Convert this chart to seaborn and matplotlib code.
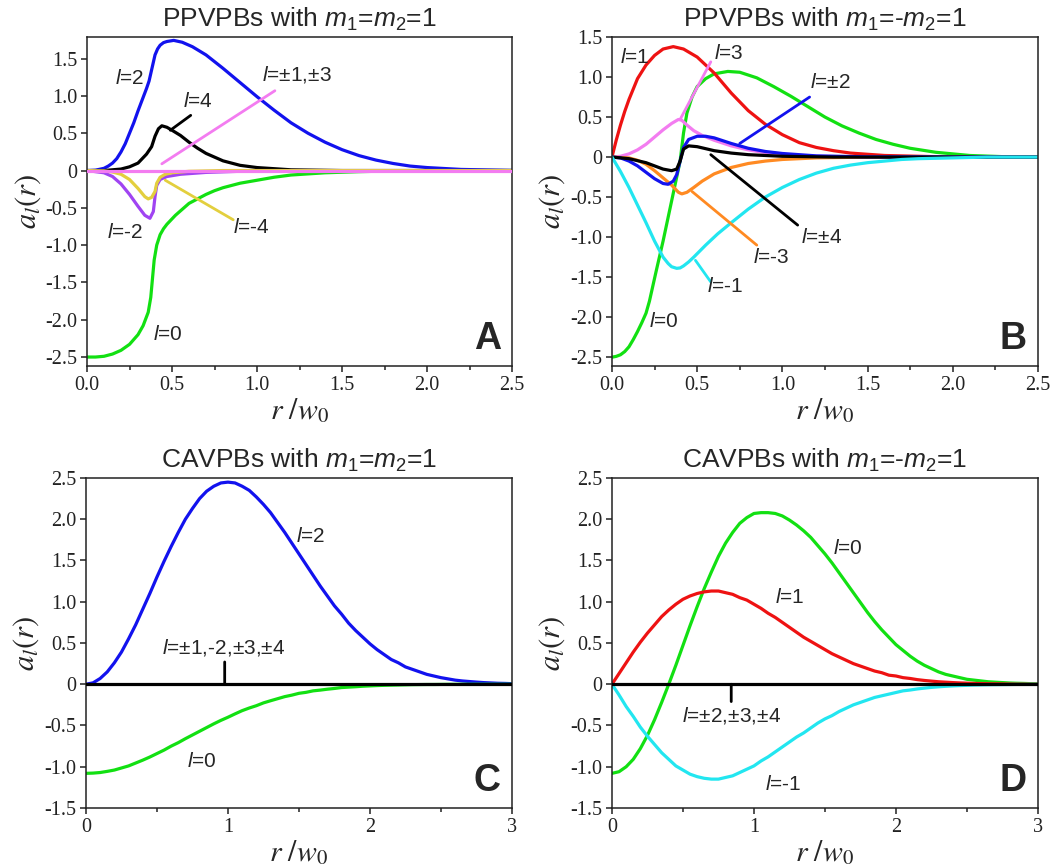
import numpy as np
import pandas as pd
import matplotlib
matplotlib.use("Agg")
import matplotlib.pyplot as plt
import seaborn as sns
from matplotlib.ticker import FixedLocator, FixedFormatter

# ---------------- data ----------------
# Panel A  (PPVPBs, m1 = m2 = 1)
A_r_l0 = [0, 0.05, 0.1, 0.15, 0.2, 0.25, 0.3, 0.33, 0.36, 0.375, 0.385, 0.395, 0.41, 0.43, 0.45, 0.47, 0.52, 0.56, 0.6, 0.65, 0.7, 0.75, 0.8, 0.9, 1.0, 1.1, 1.2, 1.4, 1.6, 1.8, 2.0, 2.5]
A_l0 = [-2.5, -2.5, -2.49, -2.46, -2.41, -2.33, -2.2, -2.08, -1.9, -1.7, -1.45, -1.2, -1.0, -0.86, -0.78, -0.72, -0.6, -0.52, -0.44, -0.38, -0.32, -0.27, -0.23, -0.17, -0.13, -0.09, -0.06, -0.03, -0.015, -0.005, 0, 0]
A_r_l2 = [0, 0.05, 0.1, 0.125, 0.15, 0.175, 0.2, 0.225, 0.25, 0.275, 0.3, 0.325, 0.35, 0.365, 0.38, 0.39, 0.40, 0.415, 0.43, 0.45, 0.47, 0.51, 0.56, 0.62, 0.7, 0.8, 0.9, 1.0, 1.1, 1.2, 1.3, 1.4, 1.5, 1.6, 1.7, 1.8, 1.9, 2.0, 2.2, 2.5]
A_l2 = [0, 0.005, 0.03, 0.06, 0.1, 0.16, 0.25, 0.36, 0.5, 0.64, 0.8, 0.95, 1.1, 1.2, 1.35, 1.45, 1.55, 1.63, 1.68, 1.715, 1.73, 1.745, 1.72, 1.66, 1.55, 1.37, 1.18, 0.99, 0.81, 0.64, 0.5, 0.38, 0.28, 0.2, 0.14, 0.095, 0.06, 0.04, 0.015, 0.002]
A_r_l4 = [0, 0.1, 0.2, 0.25, 0.3, 0.35, 0.38, 0.40, 0.42, 0.44, 0.47, 0.5, 0.55, 0.6, 0.65, 0.7, 0.8, 0.9, 1.0, 1.2, 1.5, 2.5]
A_l4 = [0, 0.0, 0.02, 0.05, 0.1, 0.22, 0.32, 0.46, 0.56, 0.6, 0.58, 0.54, 0.47, 0.38, 0.3, 0.23, 0.13, 0.07, 0.04, 0.01, 0.0, 0.0]
A_r_lm2 = [0, 0.1, 0.15, 0.2, 0.25, 0.3, 0.34, 0.37, 0.39, 0.40, 0.41, 0.43, 0.47, 0.55, 0.7, 0.9, 1.2, 2.5]
A_lm2 = [0, -0.03, -0.08, -0.18, -0.32, -0.48, -0.6, -0.64, -0.55, -0.35, -0.2, -0.12, -0.08, -0.05, -0.025, -0.01, 0, 0]
A_r_lm4 = [0, 0.1, 0.15, 0.2, 0.25, 0.3, 0.34, 0.36, 0.38, 0.4, 0.41, 0.43, 0.46, 0.5, 0.6, 0.8, 2.5]
A_lm4 = [0, -0.005, -0.02, -0.05, -0.12, -0.24, -0.35, -0.38, -0.36, -0.28, -0.17, -0.09, -0.05, -0.03, -0.01, 0, 0]
A_r_l13 = [0, 2.5]
A_l13 = [0, 0]

# Panel B  (PPVPBs, m1 = -m2 = 1)
B_r_l1 = [0, 0.025, 0.05, 0.075, 0.1, 0.15, 0.2, 0.25, 0.3, 0.36, 0.42, 0.5, 0.6, 0.7, 0.8, 0.9, 1.0, 1.1, 1.2, 1.3, 1.4, 1.6, 1.8, 2.0, 2.5]
B_l1 = [0, 0.21, 0.4, 0.57, 0.72, 0.98, 1.15, 1.27, 1.35, 1.38, 1.35, 1.25, 1.05, 0.8, 0.58, 0.41, 0.28, 0.18, 0.12, 0.08, 0.05, 0.02, 0.01, 0, 0]
B_r_l0 = [0, 0.025, 0.05, 0.075, 0.1, 0.125, 0.15, 0.175, 0.2, 0.22, 0.26, 0.3, 0.35, 0.4, 0.42, 0.44, 0.47, 0.5, 0.55, 0.6, 0.68, 0.75, 0.85, 0.95, 1.05, 1.15, 1.25, 1.35, 1.45, 1.55, 1.65, 1.75, 1.9, 2.1, 2.3, 2.5]
B_l0 = [-2.5, -2.49, -2.47, -2.43, -2.37, -2.28, -2.18, -2.07, -1.95, -1.8, -1.42, -1.05, -0.55, -0.05, 0.3, 0.55, 0.75, 0.88, 0.98, 1.04, 1.07, 1.06, 0.99, 0.88, 0.76, 0.63, 0.5, 0.39, 0.3, 0.22, 0.16, 0.11, 0.06, 0.02, 0.005, 0]
B_r_l3 = [0, 0.05, 0.1, 0.15, 0.2, 0.25, 0.3, 0.35, 0.39, 0.41, 0.44, 0.48, 0.53, 0.6, 0.7, 0.8, 0.9, 1.0, 1.2, 1.5, 2.5]
B_l3 = [0, 0.01, 0.04, 0.09, 0.16, 0.25, 0.34, 0.42, 0.47, 0.46, 0.4, 0.33, 0.27, 0.21, 0.14, 0.09, 0.055, 0.03, 0.01, 0, 0]
B_r_l2 = [0, 0.05, 0.1, 0.15, 0.2, 0.25, 0.3, 0.33, 0.36, 0.38, 0.4, 0.42, 0.45, 0.5, 0.55, 0.6, 0.7, 0.8, 0.9, 1.0, 1.2, 1.5, 2.5]
B_l2 = [0, -0.01, -0.05, -0.11, -0.19, -0.27, -0.33, -0.34, -0.3, -0.22, -0.05, 0.12, 0.22, 0.26, 0.26, 0.24, 0.17, 0.11, 0.07, 0.045, 0.015, 0.003, 0]
B_r_l4 = [0, 0.1, 0.2, 0.25, 0.3, 0.35, 0.38, 0.4, 0.42, 0.45, 0.5, 0.6, 0.7, 0.8, 1.0, 1.3, 2.5]
B_l4 = [0, -0.02, -0.07, -0.11, -0.15, -0.17, -0.15, -0.05, 0.1, 0.14, 0.13, 0.08, 0.05, 0.03, 0.01, 0, 0]
B_r_lm3 = [0, 0.1, 0.15, 0.2, 0.25, 0.3, 0.35, 0.39, 0.41, 0.44, 0.48, 0.53, 0.6, 0.7, 0.8, 0.9, 1.0, 1.2, 1.5, 2.5]
B_lm3 = [0, -0.01, -0.04, -0.09, -0.17, -0.26, -0.35, -0.44, -0.46, -0.44, -0.38, -0.3, -0.21, -0.13, -0.08, -0.05, -0.03, -0.01, 0, 0]
B_r_lm1 = [0, 0.05, 0.1, 0.15, 0.2, 0.25, 0.3, 0.33, 0.35, 0.38, 0.40, 0.42, 0.45, 0.48, 0.55, 0.62, 0.7, 0.8, 0.9, 1.0, 1.1, 1.2, 1.3, 1.4, 1.5, 1.6, 1.7, 1.8, 2.0, 2.2, 2.5]
B_lm1 = [0, -0.18, -0.38, -0.6, -0.82, -1.05, -1.25, -1.33, -1.37, -1.39, -1.385, -1.36, -1.31, -1.25, -1.1, -0.96, -0.82, -0.65, -0.5, -0.38, -0.28, -0.2, -0.14, -0.1, -0.07, -0.05, -0.03, -0.02, -0.01, 0, 0]

# Panels C and D share one radial sampling (step 0.05)
CD_r = [0.0, 0.05, 0.1, 0.15, 0.2, 0.25, 0.3, 0.35, 0.4, 0.45, 0.5, 0.55, 0.6, 0.65, 0.7, 0.75,
        0.8, 0.85, 0.9, 0.95, 1.0, 1.05, 1.1, 1.15, 1.2, 1.25, 1.3, 1.35, 1.4, 1.45, 1.5, 1.55,
        1.6, 1.65, 1.7, 1.75, 1.8, 1.85, 1.9, 1.95, 2.0, 2.05, 2.1, 2.15, 2.2, 2.25, 2.3, 2.35,
        2.4, 2.45, 2.5, 2.55, 2.6, 2.65, 2.7, 2.75, 2.8, 2.85, 2.9, 2.95, 3.0]
# Panel C  (CAVPBs, m1 = m2 = 1)
C_l2 = [0, 0.017, 0.07, 0.15, 0.26, 0.39, 0.55, 0.72, 0.91, 1.1, 1.3, 1.49, 1.67, 1.84, 2.0, 2.13,
        2.25, 2.34, 2.4, 2.44, 2.45, 2.44, 2.4, 2.35, 2.27, 2.18, 2.08, 1.96, 1.84, 1.71, 1.58, 1.45,
        1.32, 1.19, 1.07, 0.95, 0.85, 0.74, 0.65, 0.57, 0.49, 0.42, 0.36, 0.3, 0.26, 0.21, 0.18, 0.15,
        0.12, 0.1, 0.08, 0.065, 0.05, 0.04, 0.033, 0.026, 0.02, 0.016, 0.012, 0.01, 0.007]
C_l0 = [-1.08, -1.077, -1.07, -1.056, -1.04, -1.015, -0.99, -0.955, -0.92, -0.882, -0.84, -0.798, -0.75, -0.708, -0.66, -0.615,
        -0.57, -0.525, -0.48, -0.438, -0.4, -0.359, -0.32, -0.288, -0.26, -0.226, -0.2, -0.175, -0.15, -0.132, -0.11, -0.098,
        -0.08, -0.071, -0.06, -0.051, -0.04, -0.035, -0.03, -0.024, -0.02, -0.016, -0.013, -0.011, -0.009, -0.007, -0.005, -0.004,
        -0.003, -0.003, -0.002, -0.001, -0.001, 0, 0, 0, 0, 0, 0, 0, 0]
C_r_rest = [0, 3]
C_rest = [0, 0]
# Panel D  (CAVPBs, m1 = -m2 = 1)
D_l0 = [-1.08, -1.06, -1.0, -0.91, -0.78, -0.62, -0.43, -0.22, 0.0, 0.23, 0.47, 0.71, 0.94, 1.16, 1.36, 1.55,
        1.71, 1.84, 1.95, 2.02, 2.07, 2.08, 2.08, 2.07, 2.04, 1.99, 1.93, 1.86, 1.78, 1.68, 1.58, 1.47,
        1.35, 1.23, 1.11, 0.99, 0.87, 0.76, 0.66, 0.57, 0.48, 0.41, 0.34, 0.28, 0.23, 0.19, 0.15, 0.12,
        0.1, 0.08, 0.06, 0.05, 0.04, 0.03, 0.025, 0.02, 0.015, 0.012, 0.01, 0.007, 0.005]
D_l1 = [0, 0.13, 0.26, 0.39, 0.51, 0.62, 0.72, 0.82, 0.9, 0.97, 1.03, 1.07, 1.1, 1.12, 1.13, 1.13,
        1.11, 1.09, 1.05, 1.02, 0.97, 0.92, 0.86, 0.81, 0.75, 0.69, 0.63, 0.57, 0.52, 0.47, 0.42, 0.37,
        0.33, 0.29, 0.25, 0.22, 0.19, 0.16, 0.14, 0.11, 0.1, 0.08, 0.07, 0.056, 0.046, 0.038, 0.03, 0.025,
        0.02, 0.016, 0.013, 0.01, 0.008, 0.006, 0.005, 0.004, 0.003, 0.002, 0.002, 0.001, 0.001]
D_lm1 = [0, -0.13, -0.27, -0.39, -0.52, -0.63, -0.73, -0.83, -0.91, -0.99, -1.04, -1.09, -1.12, -1.14, -1.15, -1.15,
         -1.13, -1.11, -1.07, -1.03, -0.99, -0.93, -0.88, -0.82, -0.76, -0.7, -0.64, -0.59, -0.53, -0.47, -0.42, -0.38,
         -0.33, -0.29, -0.25, -0.22, -0.19, -0.16, -0.14, -0.12, -0.1, -0.08, -0.07, -0.057, -0.047, -0.038, -0.031, -0.025,
         -0.02, -0.016, -0.013, -0.01, -0.008, -0.006, -0.005, -0.004, -0.003, -0.002, -0.002, -0.001, -0.001]
D_r_rest = [0, 3]
D_rest = [0, 0]

# tick values / labels
yticks_AB = [-2.5, -2.0, -1.5, -1.0, -0.5, 0, 0.5, 1.0, 1.5]
ylabels_AB = ["-2.5", "-2.0", "-1.5", "-1.0", "-0.5", "0", "0.5", "1.0", "1.5"]
xticks_AB = [0, 0.5, 1.0, 1.5, 2.0, 2.5]
xlabels_AB = ["0.0", "0.5", "1.0", "1.5", "2.0", "2.5"]
yticks_CD = [-1.5, -1.0, -0.5, 0, 0.5, 1.0, 1.5, 2.0, 2.5]
ylabels_CD = ["-1.5", "-1.0", "-0.5", "0", "0.5", "1.0", "1.5", "2.0", "2.5"]
xticks_CD = [0, 1, 2, 3]
xlabels_CD = ["0", "1", "2", "3"]

# ---------------- style ----------------
sns.set_theme(style="ticks")
plt.rcParams["font.family"] = ["Liberation Serif", "DejaVu Serif"]
plt.rcParams["mathtext.fontset"] = "custom"
plt.rcParams["mathtext.rm"] = "Liberation Sans"
plt.rcParams["mathtext.it"] = "Liberation Sans:italic"
plt.rcParams["mathtext.bf"] = "Liberation Sans:bold"
plt.rcParams["axes.linewidth"] = 1.1
plt.rcParams["axes.edgecolor"] = "#222222"
plt.rcParams["lines.solid_capstyle"] = "round"
plt.rcParams["lines.solid_joinstyle"] = "round"

BLUE = "#1212EE"
GREEN = "#12E012"
RED = "#EE1212"
CYAN = "#22E6F0"
PINK = "#F37CF0"
PURPLE = "#A044F2"
YELLOW = "#E3CF3E"
ORANGE = "#FF8A22"
BLACK = "#000000"
LW = 2.3

fig = plt.figure(figsize=(10.56, 8.65), dpi=100)
axA = fig.add_axes([0.0824, 0.5769, 0.4025, 0.3803])
axB = fig.add_axes([0.5795, 0.5769, 0.4034, 0.3803])
axC = fig.add_axes([0.0814, 0.0659, 0.4034, 0.3815])
axD = fig.add_axes([0.5795, 0.0659, 0.4034, 0.3815])


def curve(ax, r, v, color, z=2):
    df = pd.DataFrame({"r": r, "v": v})
    sns.lineplot(data=df, x="r", y="v", ax=ax, color=color, lw=LW, sort=False,
                 legend=False, zorder=z, estimator=None)


def label(ax, x, y, s, ha="left", va="center"):
    ax.text(x, y, s, ha=ha, va=va, fontsize=15, family="Liberation Sans",
            math_fontfamily="custom", zorder=6)


def leader(ax, p0, p1, color):
    ax.annotate("", xy=p0, xytext=p1,
                arrowprops=dict(arrowstyle="-", color=color, lw=2.0,
                                shrinkA=0, shrinkB=0), zorder=5)


def style(ax, title, letter, xt, xl, xminor, yt, yl, xlim, ylim):
    ax.set_xlim(*xlim)
    ax.set_ylim(*ylim)
    ax.xaxis.set_major_locator(FixedLocator(xt))
    ax.xaxis.set_major_formatter(FixedFormatter(xl))
    ax.xaxis.set_minor_locator(FixedLocator(xminor))
    ax.yaxis.set_major_locator(FixedLocator(yt))
    ax.yaxis.set_major_formatter(FixedFormatter(yl))
    ax.tick_params(axis="both", which="major", direction="out", length=4.5, width=1.1,
                   labelsize=14.5, pad=2.5, colors="#222222", labelcolor="#222222")
    ax.tick_params(axis="x", which="minor", direction="out", length=2.6, width=1.1,
                   colors="#222222")
    for s in ax.spines.values():
        s.set_visible(True)
        s.set_linewidth(1.1)
    ax.set_xlabel(r"$r\ /w_0$", fontsize=21.5, math_fontfamily="stix", labelpad=1)
    ax.set_ylabel(r"$a_l(r)$", fontsize=22, math_fontfamily="stix", labelpad=2)
    ax.set_title(title, fontsize=19, family="Liberation Sans", math_fontfamily="custom",
                 pad=7)
    ax.text(0.974, 0.028, letter, transform=ax.transAxes, ha="right", va="bottom",
            fontsize=27, fontweight="bold", family="Liberation Sans", zorder=7)


# ---------------- Panel A ----------------
curve(axA, A_r_l0, A_l0, GREEN)
curve(axA, A_r_l2, A_l2, BLUE)
curve(axA, A_r_l4, A_l4, BLACK)
curve(axA, A_r_lm2, A_lm2, PURPLE)
curve(axA, A_r_lm4, A_lm4, YELLOW)
curve(axA, A_r_l13, A_l13, PINK, z=3)
label(axA, 0.165, 1.23, "$l$=2")
label(axA, 0.565, 0.93, "$l$=4")
leader(axA, (0.49, 0.54), (0.61, 0.74), BLACK)
label(axA, 1.03, 1.29, "$l$=±1,±3")
leader(axA, (0.44, 0.09), (1.105, 1.07), PINK)
label(axA, 0.12, -0.83, "$l$=-2")
label(axA, 0.86, -0.77, "$l$=-4")
leader(axA, (0.46, -0.13), (0.86, -0.66), YELLOW)
label(axA, 0.39, -2.2, "$l$=0")
style(axA, "PPVPBs with $m_1$=$m_2$=1", "A", xticks_AB, xlabels_AB,
      [0.25, 0.75, 1.25, 1.75, 2.25], yticks_AB, ylabels_AB, (0, 2.5), (-2.62, 1.79))

# ---------------- Panel B ----------------
curve(axB, B_r_l0, B_l0, GREEN)
curve(axB, B_r_l1, B_l1, RED)
curve(axB, B_r_l3, B_l3, PINK)
curve(axB, B_r_lm3, B_lm3, ORANGE)
curve(axB, B_r_l2, B_l2, BLUE)
curve(axB, B_r_l4, B_l4, BLACK)
curve(axB, B_r_lm1, B_lm1, CYAN)
label(axB, 0.05, 1.25, "$l$=1")
label(axB, 0.6, 1.3, "$l$=3")
leader(axB, (0.4, 0.47), (0.58, 1.19), PINK)
label(axB, 1.16, 0.93, "$l$=±2")
leader(axB, (0.75, 0.17), (1.16, 0.75), BLUE)
label(axB, 1.11, -1.0, "$l$=±4")
leader(axB, (0.58, 0.03), (1.09, -0.85), BLACK)
label(axB, 0.83, -1.26, "$l$=-3")
leader(axB, (0.47, -0.43), (0.85, -1.1), ORANGE)
label(axB, 0.56, -1.62, "$l$=-1")
leader(axB, (0.49, -1.29), (0.58, -1.56), CYAN)
label(axB, 0.22, -2.05, "$l$=0")
style(axB, "PPVPBs with $m_1$=-$m_2$=1", "B", xticks_AB, xlabels_AB,
      [0.25, 0.75, 1.25, 1.75, 2.25], yticks_AB, ylabels_AB, (0, 2.5), (-2.61, 1.5))

# ---------------- Panel C ----------------
curve(axC, CD_r, C_l2, BLUE)
curve(axC, CD_r, C_l0, GREEN)
curve(axC, C_r_rest, C_rest, BLACK, z=3)
label(axC, 1.48, 1.79, "$l$=2")
label(axC, 0.97, 0.45, "$l$=±1,-2,±3,±4", ha="center")
leader(axC, (0.977, 0.0), (0.977, 0.27), BLACK)
label(axC, 0.715, -0.94, "$l$=0")
style(axC, "CAVPBs with $m_1$=$m_2$=1", "C", xticks_CD, xlabels_CD,
      [0.5, 1.5, 2.5], yticks_CD, ylabels_CD, (0, 3), (-1.5, 2.5))

# ---------------- Panel D ----------------
curve(axD, CD_r, D_l0, GREEN)
curve(axD, CD_r, D_l1, RED)
curve(axD, CD_r, D_lm1, CYAN)
curve(axD, D_r_rest, D_rest, BLACK, z=3)
label(axD, 1.56, 1.64, "$l$=0")
label(axD, 1.15, 1.05, "$l$=1")
label(axD, 0.49, -0.38, "$l$=±2,±3,±4")
leader(axD, (0.84, 0.0), (0.84, -0.21), BLACK)
label(axD, 1.08, -1.21, "$l$=-1")
style(axD, "CAVPBs with $m_1$=-$m_2$=1", "D", xticks_CD, xlabels_CD,
      [0.5, 1.5, 2.5], yticks_CD, ylabels_CD, (0, 3), (-1.5, 2.5))

fig.savefig("out.png", dpi=100, facecolor="white")
